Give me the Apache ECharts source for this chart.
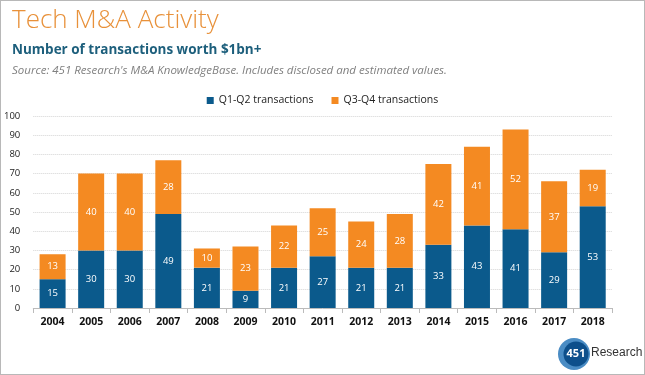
<!DOCTYPE html>
<html><head><meta charset="utf-8">
<script src="https://cdn.jsdelivr.net/npm/echarts@6/dist/echarts.min.js"></script>
<style>html,body{margin:0;padding:0;background:#fff}#c{width:645px;height:375px;box-sizing:border-box;border:1px solid #b8b8b8}</style>
</head><body><div id="c"></div>
<script>
const years = ['2004','2005','2006','2007','2008','2009','2010','2011','2012','2013','2014','2015','2016','2017','2018'];
const h1 = [15,30,30,49,21,9,21,27,21,21,33,43,41,29,53];
const h2 = [13,40,40,28,10,23,22,25,24,28,42,41,52,37,19];
const BLUE = '#0b5a8c', ORANGE = '#f48a22';
const chart = echarts.init(document.getElementById('c'));
const font = '"Open Sans", "Noto Sans", sans-serif';
chart.setOption({
  animation:false,
  textStyle:{fontFamily:font},
  title:[
    {text:'Tech M&A Activity',left:6,top:2,textStyle:{fontFamily:font,fontWeight:300,fontSize:26,color:'#e8913a'}},
    {text:'Number of transactions worth $1bn+',left:6,top:37,textStyle:{fontFamily:font,fontWeight:'bold',fontSize:13.5,color:'#1d5f7c'}},
    {text:"Source: 451 Research's M&A KnowledgeBase. Includes disclosed and estimated values.",left:6,top:59,textStyle:{fontFamily:font,fontStyle:'italic',fontWeight:'normal',fontSize:11.5,color:'#808080'}}
  ],
  legend:{top:89,left:'center',itemWidth:7,itemHeight:7,itemGap:18,icon:'rect',textStyle:{fontSize:10.5,color:'#222'},data:['Q1-Q2 transactions','Q3-Q4 transactions']},
  grid:{left:29,right:32,top:115,bottom:66,containLabel:false},
  xAxis:{type:'category',data:years,axisLine:{lineStyle:{color:'#bbb'}},axisTick:{show:true,alignWithLabel:false,lineStyle:{color:'#bbb'}},axisLabel:{color:'#111',fontSize:10.5,fontWeight:'bold',margin:9}},
  yAxis:{type:'value',min:0,max:100,interval:10,axisLine:{show:false},axisTick:{show:false},axisLabel:{color:'#222',fontSize:9.5,margin:13},splitLine:{lineStyle:{color:'#d4d4d4',type:'dotted'}}},
  series:[
    {name:'Q1-Q2 transactions',type:'bar',stack:'a',data:h1,barWidth:26,itemStyle:{color:BLUE},label:{show:true,position:'inside',color:'#fff',fontSize:9.5}},
    {name:'Q3-Q4 transactions',type:'bar',stack:'a',data:h2,barWidth:26,itemStyle:{color:ORANGE},label:{show:true,position:'inside',color:'#fff',fontSize:9.5}}
  ],
  graphic:[
    {type:'circle',shape:{cx:573,cy:353,r:16},style:{fill:'#4a8cc4'}},
    {type:'circle',shape:{cx:575,cy:353,r:12.5},style:{fill:'#0d4f8b'}},
    {type:'text',x:575,y:353,style:{text:'451',fill:'#fff',font:'bold 11px "Open Sans", sans-serif',textAlign:'center',textVerticalAlign:'middle'}},
    {type:'text',left:590,top:346,style:{text:'Research',fill:'#333',font:'12px "Liberation Sans", Arial, sans-serif'}}
  ]
});
</script></body></html>
